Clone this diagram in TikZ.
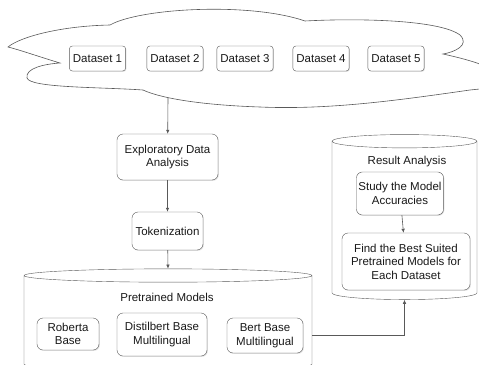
\documentclass[tikz,border=0pt]{standalone}
\usepackage{fontspec}
\setmainfont{Liberation Sans}
\usetikzlibrary{arrows.meta,positioning,shapes.geometric,shadows}

\begin{document}
\begin{tikzpicture}[
  x=1pt, y=-1pt,
  font=\fontsize{11.5}{13.5}\selectfont,
  box/.style={draw=black!65, fill=white, rounded corners=3pt, align=center,
              text=black!90, inner sep=2pt,
              drop shadow={opacity=0.25, shadow xshift=0.8pt, shadow yshift=-0.8pt}},
  dset/.style={box, minimum height=25pt, inner xsep=3.5pt},
  stepbox/.style={box, rounded corners=6pt},
  db/.style={cylinder, shape border rotate=90, draw=black!65, fill=white,
             aspect=2},
  lbl/.style={text=black!90},
  ar/.style={-{Latex[length=4pt,width=3.5pt]}, draw=black!65, line width=0.6pt}
]
\useasboundingbox (0,0) rectangle (479,364);

% data sources
\draw[black!65, fill=white, line width=0.6pt]
  (8,47) .. controls (20,37) and (60,26) .. (110,25)
  .. controls (140,8) and (250,2) .. (305,21)
  .. controls (360,18) and (440,20) .. (460,35)
  .. controls (470,45) and (455,52) .. (443,54)
  .. controls (470,60) and (500,68) .. (500,80)
  .. controls (500,87) and (490,88) .. (470,90)
  .. controls (400,100) and (330,110) .. (260,107)
  .. controls (200,105) and (160,98) .. (143,90)
  .. controls (100,87) and (30,88) .. (27,78)
  .. controls (25,68) and (45,64) .. (60,63)
  .. controls (40,57) and (20,50) .. (8,47) -- cycle;
\coordinate (cloudbot) at (168,98);

\node[dset] (ds1) at (97.5,58.5) {Dataset 1};
\node[dset] (ds2) at (175,58.5) {Dataset 2};
\node[dset] (ds3) at (245,58.5) {Dataset 3};
\node[dset] (ds4) at (321,58.5) {Dataset 4};
\node[dset] (ds5) at (396,58.5) {Dataset 5};

% preprocessing
\node[stepbox, minimum width=101pt, minimum height=46pt] (eda) at (167.5,157)
  {Exploratory Data\\Analysis};
\node[stepbox, minimum width=71pt, minimum height=38pt] (tok) at (167.5,231)
  {Tokenization};

% models
\node[db, minimum width=288pt, minimum height=102pt] (pre) at (168,324) {};
\node[lbl] (prelbl) at (167,297) {Pretrained Models};
\node[stepbox, minimum width=62pt, minimum height=32pt] (rob) at (68,334)
  {Roberta\\Base};
\node[stepbox, minimum width=90pt, minimum height=43pt] (dist) at (162,334.5)
  {Distilbert Base\\Multilingual};
\node[stepbox, minimum width=76pt, minimum height=35pt] (bert) at (265,335.5)
  {Bert Base\\Multilingual};

% results
\node[db, minimum width=145pt, minimum height=165pt] (res) at (404.5,221.5) {};
\node[lbl] (reslbl) at (407,162) {Result Analysis};
\node[stepbox, minimum width=84pt, minimum height=43pt] (study) at (400,193.5)
  {Study the Model\\Accuracies};
\node[stepbox, minimum width=128pt, minimum height=57pt] (best) at (406,261.5)
  {Find the Best Suited\\Pretrained Models for\\Each Dataset};

\draw[ar] (cloudbot) -- (eda);
\draw[ar] (eda) -- (tok);
\draw[ar] (tok) -- (pre.top);
\draw[ar] (study) -- (best);
\draw[ar] (bert.east -| pre.east) -| (res.bottom);

\end{tikzpicture}
\end{document}
